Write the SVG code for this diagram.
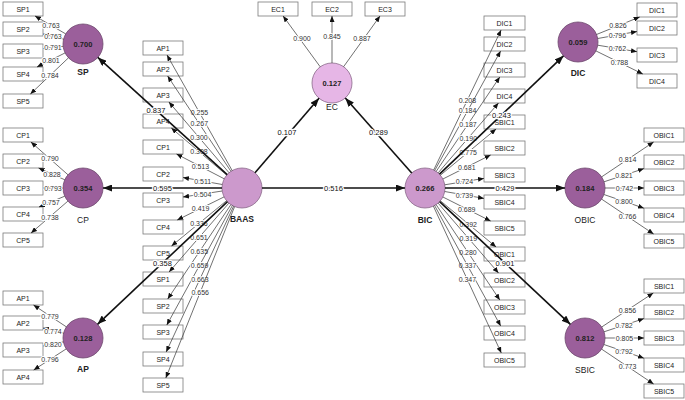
<svg xmlns="http://www.w3.org/2000/svg" width="685" height="400" viewBox="0 0 685 400">
<style>
text{font-family:"Liberation Sans",Arial,sans-serif}
.box{fill:#fff;stroke:#7a7a7a;stroke-width:0.8}
.bt{font-size:7px;text-anchor:middle;fill:#222}
.dk{fill:#9b5f9b;stroke:#6e4a6e;stroke-width:0.8}
.md{fill:#cc99cc;stroke:#8a6a8a;stroke-width:0.8}
.lt{fill:#e6b6e6;stroke:#8a6a8a;stroke-width:0.8}
.cv{font-size:7.5px;font-weight:bold;text-anchor:middle;fill:#222}
.cn{font-size:8.5px;text-anchor:middle;fill:#222}
.b{font-weight:bold}
.ol{stroke:#333;stroke-width:0.7;fill:none;marker-end:url(#a)}
.st{stroke:#111;stroke-width:1.6;fill:none;marker-end:url(#A)}
.lb{font-size:7px;text-anchor:middle;fill:#333;stroke:#fff;stroke-width:2.2;paint-order:stroke;stroke-linejoin:round}
.sl{font-size:7.5px;text-anchor:middle;fill:#111;stroke:#fff;stroke-width:2.5;paint-order:stroke;stroke-linejoin:round}
</style>
<defs>
<marker id="a" markerWidth="6" markerHeight="5" refX="6" refY="2.5" orient="auto" markerUnits="userSpaceOnUse"><path d="M0,0L6,2.5L0,5z" fill="#111"/></marker>
<marker id="A" markerWidth="9" markerHeight="7" refX="9" refY="3.5" orient="auto" markerUnits="userSpaceOnUse"><path d="M0,0L9,3.5L0,7z" fill="#111"/></marker>
</defs>
<rect width="685" height="400" fill="#fff"/>

<g id="n-SP"><circle class="dk" cx="83" cy="44" r="20"/><text class="cv" x="83" y="46.7">0.700</text><text class="cn b" x="83" y="75">SP</text></g>
<g id="n-CP"><circle class="dk" cx="83" cy="188" r="20"/><text class="cv" x="83" y="190.7">0.354</text><text class="cn" x="83" y="223">CP</text></g>
<g id="n-AP"><circle class="dk" cx="83" cy="338" r="20"/><text class="cv" x="83" y="340.7">0.128</text><text class="cn b" x="83" y="372">AP</text></g>
<g id="n-BAAS"><circle class="md" cx="242" cy="188" r="20"/><text class="cn b" x="242" y="222">BAAS</text></g>
<g id="n-EC"><circle class="lt" cx="332" cy="83" r="20"/><text class="cv" x="332" y="85.7">0.127</text><text class="cn" x="332" y="110">EC</text></g>
<g id="n-BIC"><circle class="md" cx="425" cy="188" r="20"/><text class="cv" x="425" y="190.7">0.266</text><text class="cn b" x="425" y="223">BIC</text></g>
<g id="n-DIC"><circle class="dk" cx="578" cy="42" r="20"/><text class="cv" x="578" y="44.7">0.059</text><text class="cn b" x="578" y="76">DIC</text></g>
<g id="n-OBIC"><circle class="dk" cx="585" cy="188" r="20"/><text class="cv" x="585" y="190.7">0.184</text><text class="cn" x="585" y="223">OBIC</text></g>
<g id="n-SBIC"><circle class="dk" cx="585" cy="338" r="20"/><text class="cv" x="585" y="340.7">0.812</text><text class="cn" x="585" y="373">SBIC</text></g>

<g id="i-SP-left">
<rect class="box" x="3" y="2" width="40" height="14"/><text class="bt" x="23" y="11.5">SP1</text>
<rect class="box" x="3" y="22" width="40" height="14"/><text class="bt" x="23" y="31.5">SP2</text>
<rect class="box" x="3" y="44" width="40" height="14"/><text class="bt" x="23" y="53.5">SP3</text>
<rect class="box" x="3" y="67" width="40" height="14"/><text class="bt" x="23" y="76.5">SP4</text>
<rect class="box" x="3" y="94" width="40" height="14"/><text class="bt" x="23" y="103.5">SP5</text>
</g>
<g id="i-CP-left">
<rect class="box" x="3" y="128" width="40" height="14"/><text class="bt" x="23" y="137.5">CP1</text>
<rect class="box" x="3" y="154" width="40" height="14"/><text class="bt" x="23" y="163.5">CP2</text>
<rect class="box" x="3" y="181" width="40" height="14"/><text class="bt" x="23" y="190.5">CP3</text>
<rect class="box" x="3" y="207" width="40" height="14"/><text class="bt" x="23" y="216.5">CP4</text>
<rect class="box" x="3" y="233" width="40" height="14"/><text class="bt" x="23" y="242.5">CP5</text>
</g>
<g id="i-AP-left">
<rect class="box" x="3" y="291" width="40" height="14"/><text class="bt" x="23" y="300.5">AP1</text>
<rect class="box" x="3" y="316" width="40" height="14"/><text class="bt" x="23" y="325.5">AP2</text>
<rect class="box" x="3" y="343" width="40" height="14"/><text class="bt" x="23" y="352.5">AP3</text>
<rect class="box" x="3" y="370" width="40" height="14"/><text class="bt" x="23" y="379.5">AP4</text>
</g>
<g id="i-BAAS">
<rect class="box" x="143" y="41" width="40" height="14"/><text class="bt" x="163" y="50.5">AP1</text>
<rect class="box" x="143" y="62" width="40" height="14"/><text class="bt" x="163" y="71.5">AP2</text>
<rect class="box" x="143" y="88" width="40" height="14"/><text class="bt" x="163" y="97.5">AP3</text>
<rect class="box" x="143" y="114" width="40" height="14"/><text class="bt" x="163" y="123.5">AP4</text>
<rect class="box" x="143" y="140" width="40" height="14"/><text class="bt" x="163" y="149.5">CP1</text>
<rect class="box" x="143" y="167" width="40" height="14"/><text class="bt" x="163" y="176.5">CP2</text>
<rect class="box" x="143" y="193" width="40" height="14"/><text class="bt" x="163" y="202.5">CP3</text>
<rect class="box" x="143" y="220" width="40" height="14"/><text class="bt" x="163" y="229.5">CP4</text>
<rect class="box" x="143" y="246" width="40" height="14"/><text class="bt" x="163" y="255.5">CP5</text>
<rect class="box" x="143" y="272" width="40" height="14"/><text class="bt" x="163" y="281.5">SP1</text>
<rect class="box" x="143" y="299" width="40" height="14"/><text class="bt" x="163" y="308.5">SP2</text>
<rect class="box" x="143" y="325" width="40" height="14"/><text class="bt" x="163" y="334.5">SP3</text>
<rect class="box" x="143" y="352" width="40" height="14"/><text class="bt" x="163" y="361.5">SP4</text>
<rect class="box" x="143" y="378" width="40" height="14"/><text class="bt" x="163" y="387.5">SP5</text>
</g>
<g id="i-EC">
<rect class="box" x="258" y="2" width="40" height="14"/><text class="bt" x="278" y="11.5">EC1</text>
<rect class="box" x="312" y="2" width="40" height="14"/><text class="bt" x="332" y="11.5">EC2</text>
<rect class="box" x="365" y="2" width="40" height="14"/><text class="bt" x="385" y="11.5">EC3</text>
</g>
<g id="i-BIC">
<rect class="box" x="484" y="16" width="41" height="14"/><text class="bt" x="504.5" y="25.5">DIC1</text>
<rect class="box" x="484" y="37" width="41" height="14"/><text class="bt" x="504.5" y="46.5">DIC2</text>
<rect class="box" x="484" y="63" width="41" height="14"/><text class="bt" x="504.5" y="72.5">DIC3</text>
<rect class="box" x="484" y="89" width="41" height="14"/><text class="bt" x="504.5" y="98.5">DIC4</text>
<rect class="box" x="484" y="115" width="41" height="14"/><text class="bt" x="504.5" y="124.5">SBIC1</text>
<rect class="box" x="484" y="141" width="41" height="14"/><text class="bt" x="504.5" y="150.5">SBIC2</text>
<rect class="box" x="484" y="168" width="41" height="14"/><text class="bt" x="504.5" y="177.5">SBIC3</text>
<rect class="box" x="484" y="195" width="41" height="14"/><text class="bt" x="504.5" y="204.5">SBIC4</text>
<rect class="box" x="484" y="221" width="41" height="14"/><text class="bt" x="504.5" y="230.5">SBIC5</text>
<rect class="box" x="484" y="247" width="41" height="14"/><text class="bt" x="504.5" y="256.5">OBIC1</text>
<rect class="box" x="484" y="273" width="41" height="14"/><text class="bt" x="504.5" y="282.5">OBIC2</text>
<rect class="box" x="484" y="300" width="41" height="14"/><text class="bt" x="504.5" y="309.5">OBIC3</text>
<rect class="box" x="484" y="326" width="41" height="14"/><text class="bt" x="504.5" y="335.5">OBIC4</text>
<rect class="box" x="484" y="353" width="41" height="14"/><text class="bt" x="504.5" y="362.5">OBIC5</text>
</g>
<g id="i-DIC">
<rect class="box" x="637" y="3" width="40" height="14"/><text class="bt" x="657" y="12.5">DIC1</text>
<rect class="box" x="637" y="21" width="40" height="14"/><text class="bt" x="657" y="30.5">DIC2</text>
<rect class="box" x="637" y="48" width="40" height="14"/><text class="bt" x="657" y="57.5">DIC3</text>
<rect class="box" x="637" y="74" width="40" height="14"/><text class="bt" x="657" y="83.5">DIC4</text>
</g>
<g id="i-OBIC">
<rect class="box" x="644" y="128" width="40" height="14"/><text class="bt" x="664" y="137.5">OBIC1</text>
<rect class="box" x="644" y="155" width="40" height="14"/><text class="bt" x="664" y="164.5">OBIC2</text>
<rect class="box" x="644" y="181" width="40" height="14"/><text class="bt" x="664" y="190.5">OBIC3</text>
<rect class="box" x="644" y="208" width="40" height="14"/><text class="bt" x="664" y="217.5">OBIC4</text>
<rect class="box" x="644" y="234" width="40" height="14"/><text class="bt" x="664" y="243.5">OBIC5</text>
</g>
<g id="i-SBIC">
<rect class="box" x="644" y="279" width="40" height="14"/><text class="bt" x="664" y="288.5">SBIC1</text>
<rect class="box" x="644" y="305" width="40" height="14"/><text class="bt" x="664" y="314.5">SBIC2</text>
<rect class="box" x="644" y="331" width="40" height="14"/><text class="bt" x="664" y="340.5">SBIC3</text>
<rect class="box" x="644" y="358" width="40" height="14"/><text class="bt" x="664" y="367.5">SBIC4</text>
<rect class="box" x="644" y="384" width="40" height="14"/><text class="bt" x="664" y="393.5">SBIC5</text>
</g>

<g id="connectors">
<path class="ol" d="M65.7,33.9L35,16"/><text class="lb" x="51" y="27.5">0.763</text>
<path class="ol" d="M63.6,39.1L43,34"/><text class="lb" x="53" y="38.5">0.763</text>
<path class="ol" d="M63.1,46.3L43,48.7"/><text class="lb" x="53" y="50">0.791</text>
<path class="ol" d="M65.1,52.9L37,67"/><text class="lb" x="51" y="62.5">0.801</text>
<path class="ol" d="M68.5,57.8L30.4,94"/><text class="lb" x="50" y="77.5">0.784</text>

<path class="ol" d="M68,174.8L30.9,142"/><text class="lb" x="50" y="161">0.790</text>
<path class="ol" d="M64.8,179.8L38.6,168"/><text class="lb" x="52" y="176.5">0.828</text>
<path class="ol" d="M63,188L43,188"/><text class="lb" x="53" y="190.5">0.793</text>
<path class="ol" d="M64.7,196.2L39,207"/><text class="lb" x="51" y="204.5">0.757</text>
<path class="ol" d="M67.9,201.1L31.1,233"/><text class="lb" x="50" y="220">0.738</text>

<path class="ol" d="M66.4,326.9L33.5,305"/><text class="lb" x="50" y="318.5">0.779</text>
<path class="ol" d="M63.6,333.1L43,328"/><text class="lb" x="53" y="333.5">0.774</text>
<path class="ol" d="M63.4,341.9L43,346"/><text class="lb" x="53" y="346.5">0.820</text>
<path class="ol" d="M66.2,348.9L33.7,370"/><text class="lb" x="50" y="362">0.796</text>

<path class="ol" d="M232.2,170.6L167,55"/><text class="lb" x="199.5" y="115.3">0.255</text>
<path class="ol" d="M230.9,171.3L167.6,76"/><text class="lb" x="199.3" y="126.1">0.267</text>
<path class="ol" d="M229.1,172.8L168.9,102"/><text class="lb" x="199" y="139.9">0.300</text>
<path class="ol" d="M226.7,175.1L171.3,128"/><text class="lb" x="199" y="154">0.308</text>
<path class="ol" d="M224.2,178.8L176.5,154"/><text class="lb" x="200.4" y="168.9">0.513</text>
<path class="ol" d="M222.3,184.5L183,177.5"/><text class="lb" x="202.7" y="183.5">0.511</text>
<path class="ol" d="M222.2,191L183,197"/><text class="lb" x="202.6" y="196.5">0.504</text>
<path class="ol" d="M224.1,196.9L177.2,220"/><text class="lb" x="200.6" y="210.9">0.419</text>
<path class="ol" d="M226.6,200.7L171.5,246"/><text class="lb" x="199" y="225.8">0.336</text>
<path class="ol" d="M228.9,203.1L169.1,272"/><text class="lb" x="199" y="240">0.651</text>
<path class="ol" d="M230.9,204.6L167.7,299"/><text class="lb" x="199.3" y="254.3">0.635</text>
<path class="ol" d="M232.4,205.5L166.8,325"/><text class="lb" x="199.6" y="267.8">0.659</text>
<path class="ol" d="M233.6,206.2L166.2,352"/><text class="lb" x="199.9" y="281.5">0.663</text>
<path class="ol" d="M234.6,206.6L165.8,378"/><text class="lb" x="200.2" y="294.8">0.656</text>

<path class="ol" d="M320.2,66.8L283.1,16"/><text class="lb" x="302" y="40.5">0.900</text>
<path class="ol" d="M332,63L332,16"/><text class="lb" x="332" y="38.5">0.845</text>
<path class="ol" d="M343.6,66.7L380,16"/><text class="lb" x="362" y="40.5">0.887</text>

<path class="ol" d="M433.7,170L501.1,30"/><text class="lb" x="467.4" y="102.5">0.208</text>
<path class="ol" d="M434.7,170.5L500.6,51"/><text class="lb" x="467.6" y="113.2">0.184</text>
<path class="ol" d="M436.2,171.4L499.8,77"/><text class="lb" x="468" y="126.7">0.187</text>
<path class="ol" d="M438.1,172.9L498.5,103"/><text class="lb" x="468.3" y="140.5">0.190</text>
<path class="ol" d="M440.4,175.2L496.1,129"/><text class="lb" x="468.2" y="154.5">0.775</text>
<path class="ol" d="M442.9,179L490.6,155"/><text class="lb" x="466.8" y="169.5">0.681</text>
<path class="ol" d="M444.7,184.8L484,178.4"/><text class="lb" x="464.4" y="184.1">0.724</text>
<path class="ol" d="M444.7,191.5L484,198.4"/><text class="lb" x="464.4" y="197.5">0.739</text>
<path class="ol" d="M442.9,197L490.6,221"/><text class="lb" x="466.7" y="211.5">0.689</text>
<path class="ol" d="M440.4,200.8L496.1,247"/><text class="lb" x="468.2" y="226.5">0.392</text>
<path class="ol" d="M438.1,203.1L498.5,273"/><text class="lb" x="468.3" y="240.5">0.319</text>
<path class="ol" d="M436.1,204.6L499.8,300"/><text class="lb" x="468" y="254.8">0.280</text>
<path class="ol" d="M434.6,205.5L500.7,326"/><text class="lb" x="467.6" y="268.3">0.337</text>
<path class="ol" d="M433.4,206.2L501.3,353"/><text class="lb" x="467.4" y="282.1">0.347</text>

<path class="ol" d="M596.5,34.5L639.7,17"/><text class="lb" x="618" y="28.3">0.826</text>
<path class="ol" d="M597.7,38.5L637,31.5"/><text class="lb" x="617.4" y="37.5">0.796</text>
<path class="ol" d="M597.7,45.2L637,51.7"/><text class="lb" x="617.4" y="51">0.762</text>
<path class="ol" d="M595.9,50.9L642.8,74"/><text class="lb" x="619.4" y="65">0.788</text>

<path class="ol" d="M601.6,176.9L653.6,142"/><text class="lb" x="627.6" y="161.9">0.814</text>
<path class="ol" d="M604,181.8L644,168.6"/><text class="lb" x="624" y="177.7">0.821</text>
<path class="ol" d="M605,188L644,188"/><text class="lb" x="624.5" y="190.5">0.742</text>
<path class="ol" d="M603.9,194.5L644,208.2"/><text class="lb" x="624" y="203.9">0.800</text>
<path class="ol" d="M601.6,199.1L653.6,234"/><text class="lb" x="627.6" y="219.1">0.766</text>

<path class="ol" d="M601.7,327L653.3,293"/><text class="lb" x="627.5" y="312.5">0.856</text>
<path class="ol" d="M604,331.8L644,318.6"/><text class="lb" x="624" y="327.7">0.782</text>
<path class="ol" d="M605,338L644,338"/><text class="lb" x="624.5" y="340.5">0.805</text>
<path class="ol" d="M603.9,344.5L644,358.2"/><text class="lb" x="624" y="353.9">0.792</text>
<path class="ol" d="M601.6,349.1L653.6,384"/><text class="lb" x="627.6" y="369.1">0.773</text>

<path class="st" d="M227.2,174.6L97.8,57.4"/><text class="sl" x="156" y="112.6">0.837</text>
<path class="st" d="M222,188L103,188"/><text class="sl" x="162.5" y="190.7">0.595</text>
<path class="st" d="M227.5,201.7L97.5,324.3"/><text class="sl" x="162.5" y="265.7">0.358</text>
<path class="st" d="M255,172.8L319,98.2"/><text class="sl" x="287" y="134.7">0.107</text>
<path class="st" d="M411.7,173L345.3,98"/><text class="sl" x="378.5" y="134.7">0.289</text>
<path class="st" d="M262,188L405,188"/><text class="sl" x="333.5" y="190.7">0.516</text>
<path class="st" d="M439.5,174.2L563.5,55.8"/><text class="sl" x="501.5" y="117.7">0.243</text>
<path class="st" d="M445,188L565,188"/><text class="sl" x="505" y="190.7">0.429</text>
<path class="st" d="M439.6,201.7L570.4,324.3"/><text class="sl" x="505" y="265.7">0.901</text>
</g>
</svg>
